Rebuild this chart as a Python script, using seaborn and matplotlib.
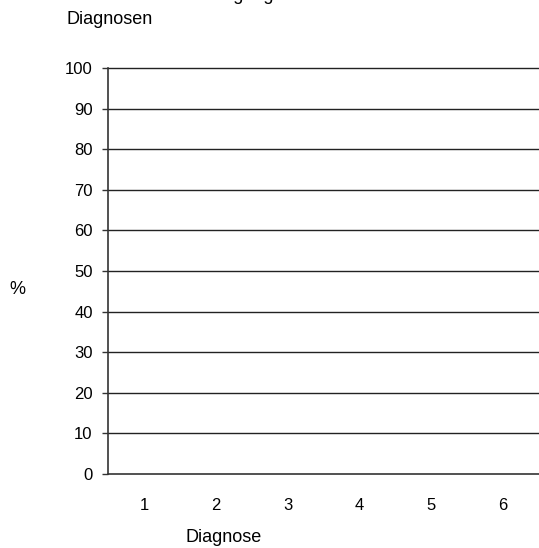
import numpy as np
import pandas as pd
import matplotlib.pyplot as plt
import seaborn as sns

# Daten (leeres Diagramm: keine Werte eingetragen)
diagnosen = ['1', '2', '3', '4', '5', '6']
anteil = [0, 0, 0, 0, 0, 0]
y_ticks = [0, 10, 20, 30, 40, 50, 60, 70, 80, 90, 100]

sns.set_style('white')
plt.rcParams['font.family'] = ['Liberation Sans', 'DejaVu Sans']
plt.rcParams['text.color'] = 'black'
plt.rcParams['xtick.color'] = 'black'
plt.rcParams['ytick.color'] = 'black'

dados = pd.DataFrame({'Diagnose': diagnosen, 'Anteil': anteil})

fig = plt.figure(figsize=(5.39, 5.48), dpi=100)
ax = fig.add_axes([108 / 539, 1 - 474 / 548, 1 - 108 / 539, (474 - 68) / 548])

sns.barplot(data=dados, x='Diagnose', y='Anteil', color='#4472c4', ax=ax)

ax.set_xlim(-0.5, 5.5)
ax.set_ylim(0, 100)
ax.set_yticks(y_ticks)
ax.set_yticklabels([str(v) for v in y_ticks])
for v in y_ticks:
    ax.axhline(v, color='#222222', lw=1.1 if v == 0 else 1, zorder=3, clip_on=False)

for s in ['top', 'right', 'bottom']:
    ax.spines[s].set_visible(False)
ax.spines['left'].set_color('#333333')
ax.spines['left'].set_linewidth(1.2)
ax.spines['left'].set_zorder(4)

ax.tick_params(axis='y', left=True, length=4.5, width=1, color='#333333',
               labelcolor='black', pad=6.5, labelsize=12)
ax.tick_params(axis='x', bottom=False, length=0, labelcolor='black', pad=17, labelsize=12)

ax.set_xlabel('')
ax.set_ylabel('')
fig.text(224 / 539, 1 - 538 / 548, 'Diagnose', fontsize=13, ha='center', va='center')
fig.text(17 / 539, 1 - 290 / 548, '%', fontsize=13, ha='center', va='center')

# Titel oben teilweise abgeschnitten (nur Unterlängen sichtbar)
fig.text(288 / 539, 1 + 0.5 / 548, 'Patienten nach Eingangs-', fontsize=13, ha='right', va='baseline')
fig.text(67 / 539, 1 - 24 / 548, 'Diagnosen', fontsize=13, ha='left', va='baseline')

plt.savefig('out.png', dpi=100)
